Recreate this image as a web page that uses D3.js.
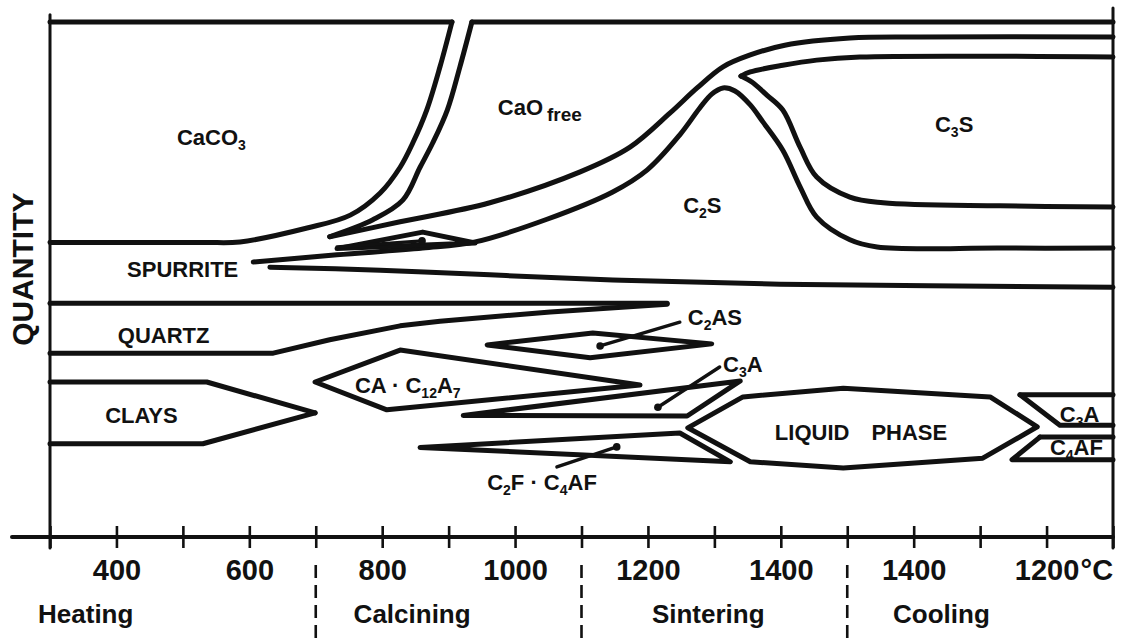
<!DOCTYPE html>
<html><head><meta charset="utf-8">
<script src="https://cdn.jsdelivr.net/npm/d3@7"></script>
<style>body{margin:0;background:#fff}svg{display:block}</style>
</head><body>
<svg id="c" width="1128" height="639"></svg>
<script>
// Process axis: heating 300→1500 °C, then cooling 1500→1100 °C (drawn as 1500→1900)
const tickValues = d3.range(300, 2000, 100);
const tickLabels = {400:"400",600:"600",800:"800",1000:"1000",1200:"1200",1400:"1400",1600:"1400",1800:"1200"};
const stages = ["Heating","Calcining","Sintering","Cooling"];
const stageLabelT = [282, 757, 1206, 1569];
const stageDividers = [700, 1100, 1500];

// Phase boundaries, [process temperature, quantity %]
const topLeft    = [[300,100],[905,100]];
const topRight   = [[935,100],[1900,100]];
const caco3Edge  = [[905,100],[887,91.3],[867,82.9],[846,76.5],[827,71.8],[797,66.8],[752,62.5],[687,60.0],[586,57.3],[530,57.2],[300,57.2]];
const caoLeft    = [[935,100],[917,91.3],[898,82.9],[876,76.5],[857,71.8],[831,65.4],[786,61.6],[721,58.3]];
const caoBottom  = [[721,58.3],[827,61.2],[962,64.9],[1098,70.9],[1173,75.7],[1233,82.3],[1274,87.2],[1313,91.3],[1354,93.6],[1406,95.5],[1504,96.9],[1610,97.1],[1900,97.1]];
const c3sTop     = [[1340,89.5],[1354,90.3],[1403,91.6],[1454,92.6],[1519,93.2],[1900,93.2]];
const c3sBottom  = [[1340,89.5],[1357,88.3],[1379,85.8],[1403,82.9],[1429,75.7],[1454,69.9],[1504,66.0],[1554,64.9],[1730,64.3],[1900,64.1]];
const c2sTop     = [[606,53.4],[732,54.8],[861,56.1],[940,57.3],[1048,61.7],[1147,67.0],[1199,71.3],[1248,78.1],[1278,83.3],[1296,86.0],[1313,87.2],[1331,86.6],[1354,83.9],[1373,80.6],[1403,75.1],[1429,68.0],[1454,62.1],[1504,57.7],[1545,56.3],[1730,56.1],[1900,56.1]];
const c2sBottom  = [[631,52.4],[797,51.8],[962,50.9],[1147,49.9],[1399,49.1],[1900,48.5]];
const quartzTop  = [[300,45.4],[1229,45.4]];
const quartzBot  = [[300,35.7],[636,35.7],[721,38.3],[827,41.0],[887,41.9],[1053,43.7],[1229,45.2]];
const claysTop   = [[300,30.1],[536,30.1],[699,24.1]];
const claysBot   = [[300,18.1],[530,18.1],[699,24.1]];
const c3aRight1  = [[1760,27.6],[1900,27.6]];
const c3aRight2  = [[1760,27.6],[1820,21.7],[1900,21.7]];
const c4afRight1 = [[1790,19.4],[1900,19.4]];
const c4afRight2 = [[1790,19.4],[1748,15.0],[1900,15.0]];

// Closed phase fields
const spurriteLens = [[732,56.0],[861,59.2],[940,57.1]];
const caC12A7      = [[699,30.1],[827,36.3],[1188,29.5],[807,24.7]];
const c2as         = [[958,37.3],[1117,39.6],[1296,37.5],[1113,34.8]];
const c3aMid       = [[922,23.6],[1339,30.3],[1259,23.5]];
const liquid       = [[1260,21.2],[1343,27.2],[1494,28.9],[1715,27.2],[1786,21.4],[1704,15.3],[1494,13.4],[1354,14.6]];
const c2fC4af      = [[857,17.4],[1248,20.2],[1324,14.6]];

// Pointers: [dot end, label end]
const pointers = [
  [[860,57.5],[732,56.3]],
  [[1128,37.1],[1248,41.7]],
  [[1215,25.2],[1308,33.0]],
  [[1153,17.5],[1063,13.6]]
];

// Labels: [t, q (baseline), segments]
const labels = [
  [491, 76.1, [["CaCO"],["3",1]]],
  [974, 81.9, [["CaO"],["free",2]]],
  [1253, 62.9, [["C"],["2",1],["S"]]],
  [1632, 78.6, [["C"],["3",1],["S"]]],
  [416, 50.5, [["SPURRITE"]]],
  [402, 37.7, [["QUARTZ"]]],
  [383, 22.1, [["CLAYS"]]],
  [759, 28.0, [["CA · C"],["12",1],["A"],["7",1]]],
  [1260, 41.2, [["C"],["2",1],["AS"]]],
  [1313, 32.0, [["C"],["3",1],["A"]]],
  [1391, 18.8, [["LIQUID\u2003PHASE"]]],
  [1820, 22.3, [["C"],["3",1],["A"]]],
  [1805, 15.9, [["C"],["4",1],["AF"]]],
  [958, 9.1, [["C"],["2",1],["F · C"],["4",1],["AF"]]]
];

const INK = "#111";
const FONT = "'Liberation Sans', Arial, Helvetica, sans-serif";
const svg = d3.select("#c");
const x = d3.scaleLinear().domain([300,1900]).range([50,1113]);
const y = d3.scaleLinear().domain([0,100]).range([537,22]);

const smooth = d3.line().x(d=>x(d[0])).y(d=>y(d[1])).curve(d3.curveCatmullRom.alpha(0.5));
const straight = d3.line().x(d=>x(d[0])).y(d=>y(d[1]));
const closed = d3.line().x(d=>x(d[0])).y(d=>y(d[1])).curve(d3.curveLinearClosed);

const g = svg.append("g").attr("fill","none").attr("stroke",INK)
  .attr("stroke-width",5).attr("stroke-linecap","round").attr("stroke-linejoin","round");

[caco3Edge, caoLeft, caoBottom, c3sTop, c3sBottom, c2sTop, c2sBottom].forEach(p=>g.append("path").attr("d",smooth(p)));
[topLeft, topRight, quartzTop, quartzBot, claysTop, claysBot, c3aRight1, c3aRight2, c4afRight1, c4afRight2].forEach(p=>g.append("path").attr("d",straight(p)));
[spurriteLens, caC12A7, c2as, c3aMid, liquid, c2fC4af].forEach(p=>g.append("path").attr("d",closed(p)));

pointers.forEach(p=>{
  g.append("path").attr("d",straight(p)).attr("stroke-width",3.4);
  svg.append("circle").attr("cx",x(p[0][0])).attr("cy",y(p[0][1])).attr("r",3.8).attr("fill",INK);
});

// frame
const frame = svg.append("g").attr("stroke",INK).attr("stroke-linecap","round");
frame.append("line").attr("x1",x(300)).attr("x2",x(300)).attr("y1",y(0)+11).attr("y2",y(101.4)).attr("stroke-width",3);
frame.append("line").attr("x1",x(1900)).attr("x2",x(1900)).attr("y1",y(0)+11).attr("y2",y(102.7)).attr("stroke-width",3);
frame.append("line").attr("x1",x(300)-38).attr("x2",x(1900)).attr("y1",y(0)).attr("y2",y(0)).attr("stroke-width",4);

const ax = svg.append("g").attr("transform",`translate(0,${y(0)})`)
  .call(d3.axisBottom(x).tickValues(tickValues).tickSize(11).tickFormat(d=>tickLabels[d]||""));
ax.select(".domain").remove();
ax.selectAll(".tick line").attr("y1",-11).attr("y2",11).attr("stroke",INK).attr("stroke-width",2.6);
ax.selectAll(".tick text").attr("y",43).attr("dy",null).attr("fill",INK)
  .style("font-family",FONT).style("font-weight","bold").style("font-size","29px");
svg.append("text").attr("x",x(1800)+34).attr("y",y(0)+43).attr("fill",INK)
  .style("font-family",FONT).style("font-weight","bold").style("font-size","29px").text("°C");

// stage dividers and names
stageDividers.forEach(t=>{
  svg.append("line").attr("x1",x(t)).attr("x2",x(t)).attr("y1",y(0)+28).attr("y2",639)
    .attr("stroke",INK).attr("stroke-width",2.6).attr("stroke-dasharray","13,7");
});
svg.selectAll("text.stage").data(stages).join("text").attr("class","stage")
  .attr("x",(d,i)=>x(stageLabelT[i])).attr("y",y(0)+86).attr("fill",INK)
  .style("font-family",FONT).style("font-weight","bold").style("font-size","26px").text(d=>d);

// y label
svg.append("text").attr("transform",`translate(${x(300)-17},${y(52)}) rotate(-90)`)
  .attr("text-anchor","middle").attr("fill",INK)
  .style("font-family",FONT).style("font-weight","bold").style("font-size","30px").text("QUANTITY");

// phase labels
labels.forEach(([t,q,segs])=>{
  const tx = svg.append("text").attr("x",x(t)).attr("y",y(q)).attr("fill",INK)
    .style("font-family",FONT).style("font-weight","bold").style("font-size","22px");
  let shift = 0;
  segs.forEach(([s,sub])=>{
    const ts = tx.append("tspan").text(s);
    if (sub===1){ ts.style("font-size","14px").attr("dy",5-shift); shift=5; }
    else if (sub===2){ ts.style("font-size","19px").attr("dx",4).attr("dy",6-shift); shift=6; }
    else { ts.attr("dy",-shift); shift=0; }
  });
});
</script>
</body></html>
